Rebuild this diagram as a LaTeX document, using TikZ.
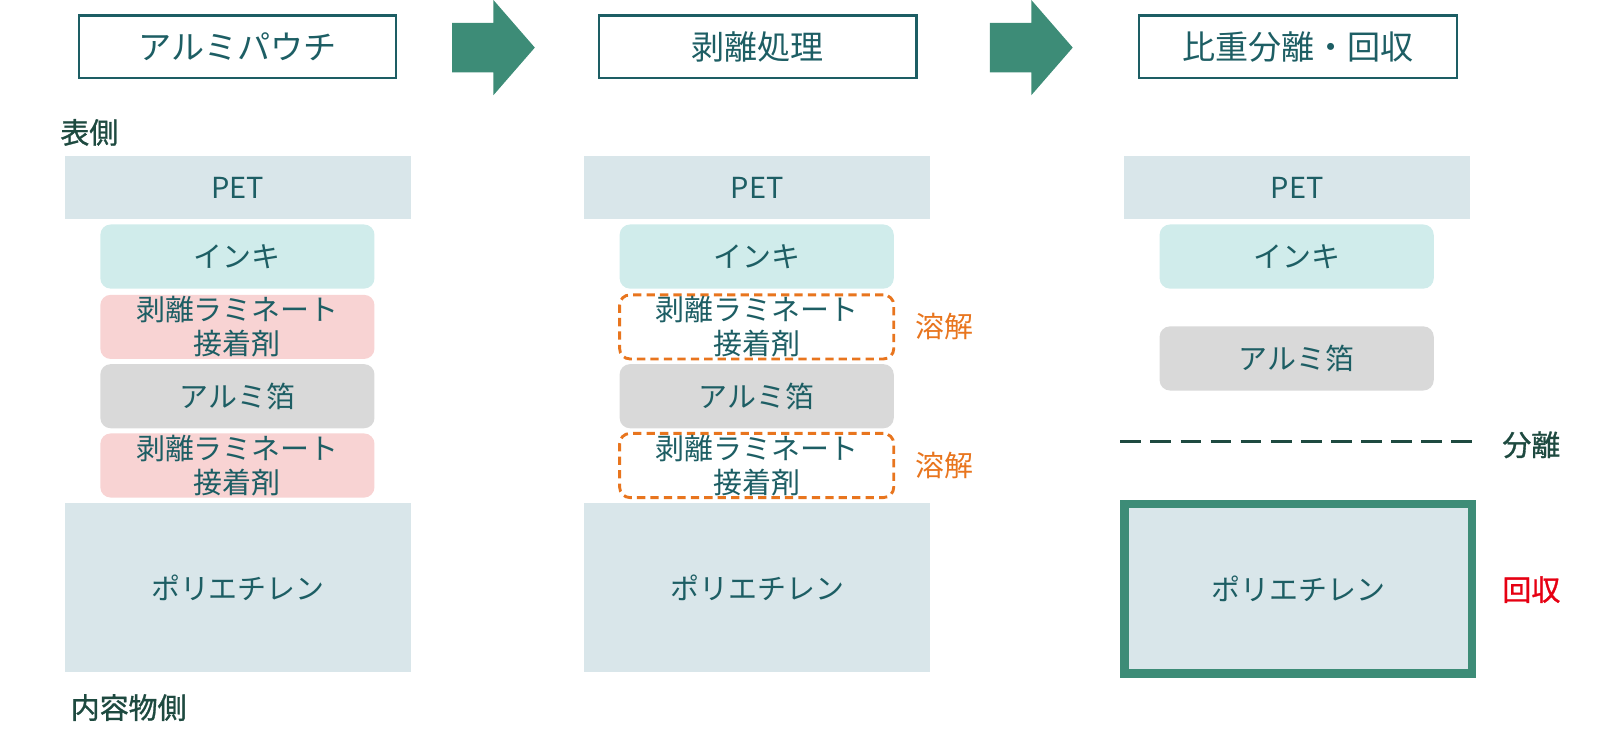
\documentclass[tikz,border=0pt]{standalone}
\usepackage{fontspec}
\newfontfamily\jp{Noto Sans CJK JP}
\newfontfamily\jpheavy[FakeBold=1]{Noto Sans CJK JP}
\newcommand\dpx{0.51722pt}
\definecolor{txt}{HTML}{1D5E64}
\definecolor{dark}{HTML}{1E4A40}
\definecolor{arrowg}{HTML}{3D8C77}
\definecolor{lblue}{HTML}{D9E6EA}
\definecolor{lcyan}{HTML}{D0ECEB}
\definecolor{lpink}{HTML}{F8D3D3}
\definecolor{lgray}{HTML}{D9D9D9}
\definecolor{orng}{HTML}{E8751E}
\definecolor{redc}{HTML}{E60012}
\tikzset{
  base/.style={inner sep=0pt, text=txt, font=\jp\fontsize{14.48}{17.07}\selectfont, align=center},
  header/.style={base, draw=txt, line width=2*\dpx, minimum width=307*\dpx, minimum height=60*\dpx, font=\jp\fontsize{16.55}{19.6}\selectfont},
  widelayer/.style={base, fill=lblue, minimum width=334*\dpx},
  layer/.style={base, rounded corners=10*\dpx, minimum width=265*\dpx, minimum height=62*\dpx},
  ink/.style={layer, fill=lcyan},
  adh/.style={layer, fill=lpink},
  alu/.style={layer, fill=lgray},
  dissolved/.style={layer, draw=orng, line width=2.8*\dpx, dash pattern=on 8*\dpx off 5*\dpx},
  side/.style={inner sep=0pt, anchor=west, font=\jp\fontsize{14.48}{17.07}\selectfont},
  sideheavy/.style={side, font=\jpheavy\fontsize{14.48}{17.07}\selectfont},
  flow/.style={fill=arrowg, draw=none}
}
\begin{document}
\begin{tikzpicture}[x=0.51722pt,y=-0.51722pt]
\useasboundingbox (0,0) rectangle (1568,716.3);
% headers
\node[header] (h1) at (229.5,45) {アルミパウチ};
\node[header] (h2) at (732.5,45) {剥離処理};
\node[header] (h3) at (1255,45) {比重分離・回収};
% arrows
\fill[flow] (437,22) -- (477,22) -- (477,0) -- (517,46) -- (477,92) -- (477,70) -- (437,70) -- cycle;
\fill[flow] (957,22) -- (997,22) -- (997,0) -- (1037,46) -- (997,92) -- (997,70) -- (957,70) -- cycle;
% column 1
\node[sideheavy, text=dark] (front) at (58,128) {表側};
\node[widelayer, minimum height=61*\dpx] (pet1) at (230,181.5) {PET};
\node[ink] (ink1) at (229.5,248) {インキ};
\node[adh] (adA1) at (229.5,316) {剥離ラミネート\\接着剤};
\node[alu] (alu1) at (229.5,383) {アルミ箔};
\node[adh] (adB1) at (229.5,450) {剥離ラミネート\\接着剤};
\node[widelayer, minimum height=164*\dpx] (pe1) at (230,568) {ポリエチレン};
\node[sideheavy, text=dark] (inner) at (68,684) {内容物側};
% column 2
\node[widelayer, minimum height=61*\dpx] (pet2) at (732,181.5) {PET};
\node[ink] (ink2) at (731.5,248) {インキ};
\node[dissolved] (adA2) at (731.5,316) {剥離ラミネート\\接着剤};
\node[alu] (alu2) at (731.5,383) {アルミ箔};
\node[dissolved] (adB2) at (731.5,450) {剥離ラミネート\\接着剤};
\node[widelayer, minimum height=164*\dpx] (pe2) at (732,568) {ポリエチレン};
\node[side, text=orng] (dis1) at (885,316) {溶解};
\node[side, text=orng] (dis2) at (885,450) {溶解};
% column 3
\node[widelayer, minimum height=61*\dpx] (pet3) at (1254,181.5) {PET};
\node[ink] (ink3) at (1253.5,248) {インキ};
\node[alu] (alu3) at (1253.5,346.5) {アルミ箔};
\coordinate (sepL) at (1083,427);
\coordinate (sepR) at (1424,427);
\draw[dark, line width=3*\dpx, dash pattern=on 20*\dpx off 9.1*\dpx] (sepL) -- (sepR);
\node[sideheavy, text=dark] (sep) at (1452,430) {分離};
\node[widelayer, minimum height=164*\dpx, draw=arrowg, line width=8*\dpx, minimum width=336*\dpx] (pe3) at (1255,569) {ポリエチレン};
\node[sideheavy, text=redc] (rec) at (1452,570) {回収};
\end{tikzpicture}
\end{document}
